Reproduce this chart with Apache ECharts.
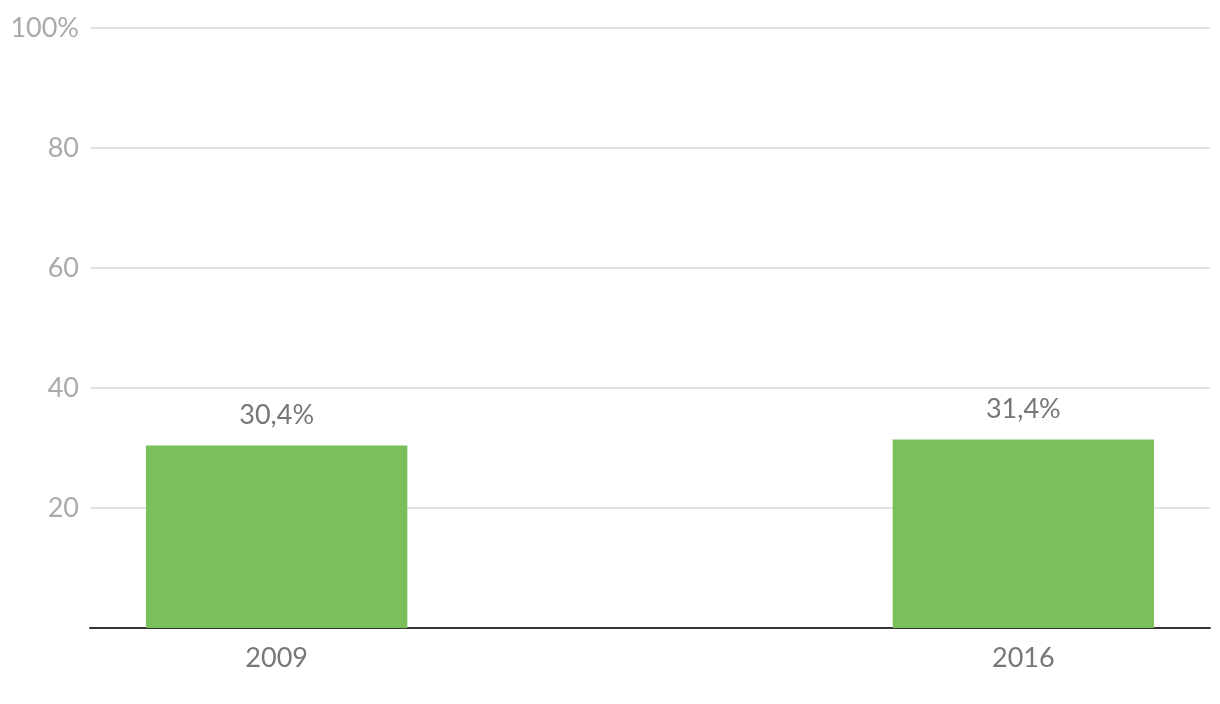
<!DOCTYPE html>
<html><head><meta charset="utf-8">
<script src="https://cdn.jsdelivr.net/npm/echarts@6/dist/echarts.min.js"></script>
<style>html,body{margin:0;padding:0;background:#fff}#c{width:1220px;height:704px}</style>
</head><body><div id="c"></div>
<script>
const categories = ['2009', '', '2016'];
const values = [30.4, null, 31.4];
const yTicks = [0, 20, 40, 60, 80, 100];

const chart = echarts.init(document.getElementById('c'), null, {renderer: 'canvas'});
const font = 'Lato, "Noto Sans", sans-serif';
chart.setOption({
  animation: false,
  grid: {left: 90, right: 10, top: 28, bottom: 76},
  xAxis: {
    type: 'category', data: categories, boundaryGap: true,
    axisLine: {lineStyle: {color: '#333', width: 2}},
    axisTick: {show: false},
    axisLabel: {color: '#777', fontSize: 27, fontFamily: font, margin: 17}
  },
  yAxis: {
    type: 'value', min: yTicks[0], max: yTicks[yTicks.length - 1], interval: 20,
    axisLine: {show: false}, axisTick: {show: false},
    splitLine: {lineStyle: {color: '#e3e3e3', width: 2}},
    axisLabel: {color: '#aaa', fontSize: 27, fontFamily: font, margin: 11, padding: [8, 0, 0, 0],
      formatter: v => v === 0 ? '' : (v === 100 ? v + '%' : String(v))}
  },
  series: [{
    type: 'bar', data: values, barWidth: '70%',
    itemStyle: {color: '#79c05a'},
    label: {show: true, position: 'top', distance: 17, color: '#777', fontSize: 27, fontFamily: font,
      formatter: p => String(p.value).replace('.', ',') + '%'}
  }]
});
</script></body></html>
